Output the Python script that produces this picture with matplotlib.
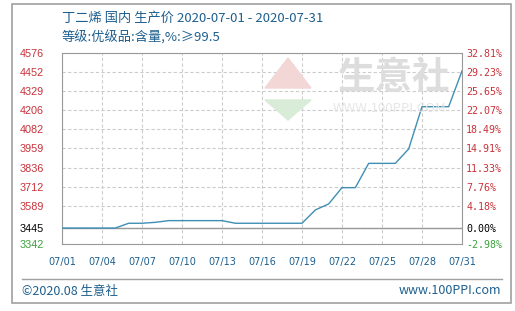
import numpy as np
import matplotlib.pyplot as plt
from matplotlib.patches import Rectangle, Polygon
from matplotlib.lines import Line2D

plt.rcParams['font.family'] = ['Noto Sans CJK SC', 'DejaVu Sans']

# daily price, 2020-07-01 .. 2020-07-31
days = list(range(31))
price = [3445, 3445, 3445, 3445, 3445, 3476, 3476, 3482, 3493, 3493,
         3493, 3493, 3493, 3476, 3476, 3476, 3476, 3476, 3476, 3562,
         3601, 3706, 3706, 3863, 3863, 3863, 3956, 4229, 4229, 4229, 4460]
xtick_days = list(range(0, 31, 3))
xtick_labels = ['07/%02d' % (d + 1) for d in xtick_days]

base = 3445
left_ticks = [4576, 4452, 4329, 4206, 4082, 3959, 3836, 3712, 3589, 3445, 3342]
right_labels = ['32.81%', '29.23%', '25.65%', '22.07%', '18.49%', '14.91%',
                '11.33%', '7.76%', '4.18%', '0.00%', '-2.98%']

blue = '#1d5f8e'
red = '#c8323a'
green = '#3ca03c'
line_col = '#3f8fb5'

fig = plt.figure(figsize=(5.15, 3.11), dpi=100)
W, H = 515, 311

def fx(px):
    return px / W

def fy(py):
    return 1 - py / H

# outer frame and footer separator
fig.patches.append(Rectangle((fx(12), fy(303)), fx(499), 299 / H, transform=fig.transFigure,
                             fill=False, edgecolor='#a0a0a0', lw=1.2))
fig.lines.append(Line2D([fx(22), fx(502)], [fy(279), fy(279)], transform=fig.transFigure,
                        color='#a0a0a0', lw=1))

ax = fig.add_axes([fx(62), fy(244), fx(400), 191 / H])
ax.plot(days, price, color=line_col, lw=1.0, zorder=3)
ax.axhline(base, color='#999999', lw=1.0, zorder=2)

ax.set_xlim(0, 30)
ax.set_ylim(3342, 4576)
ax.set_xticks(xtick_days)
ax.set_xticklabels(xtick_labels, color=blue, fontsize=7, family='DejaVu Sans')
ax.set_yticks(left_ticks)
ax.set_yticklabels([str(v) for v in left_ticks], fontsize=7.8, family='Liberation Sans')
for lab, v in zip(ax.get_yticklabels(), left_ticks):
    lab.set_color('black' if v == base else (green if v < base else red))
ax.tick_params(length=0, pad=5)
ax.tick_params(axis='x', pad=9)
ax.tick_params(axis='y', pad=13)
ax.grid(True, color='#cccccc', ls=(0, (3, 2)), lw=0.8)
for s in ax.spines.values():
    s.set_color('#999999')

ax2 = ax.twinx()
ax2.set_ylim(ax.get_ylim())
ax2.set_yticks(left_ticks)
ax2.set_yticklabels(right_labels, fontsize=7.2, family='DejaVu Sans Mono')
for lab, v in zip(ax2.get_yticklabels(), left_ticks):
    lab.set_color('black' if v == base else (green if v < base else red))
ax2.tick_params(length=0, pad=3)
for s in ax2.spines.values():
    s.set_visible(False)

# watermark
fig.text(fx(338), fy(78), '生意社', fontsize=27, color='#dddddd', va='center', zorder=0,
         fontweight='bold')
fig.text(fx(333), fy(108), 'WWW.100PPI.COM', fontsize=9.5, color='#e6e6e6', va='center', zorder=0)
fig.patches.append(Polygon([[fx(265), fy(88)], [fx(311), fy(88)], [fx(288), fy(58)]],
                           transform=fig.transFigure, color='#f3d6d6', zorder=0))
fig.patches.append(Polygon([[fx(265), fy(100)], [fx(311), fy(100)], [fx(288), fy(120)]],
                           transform=fig.transFigure, color='#d8ecd8', zorder=0))

fig.text(fx(62), fy(18), '丁二烯 国内 生产价 2020-07-01 - 2020-07-31', fontsize=9.5,
         color=blue, va='center')
fig.text(fx(62), fy(38), '等级:优级品:含量,%:≥99.5', fontsize=9.5, color=blue, va='center')
fig.text(fx(22), fy(291), '©2020.08 生意社', fontsize=9, color=blue, va='center')
fig.text(fx(501), fy(291), 'www.100PPI.com', fontsize=9, color=blue, va='center', ha='right')

fig.savefig('out.png', dpi=100)
